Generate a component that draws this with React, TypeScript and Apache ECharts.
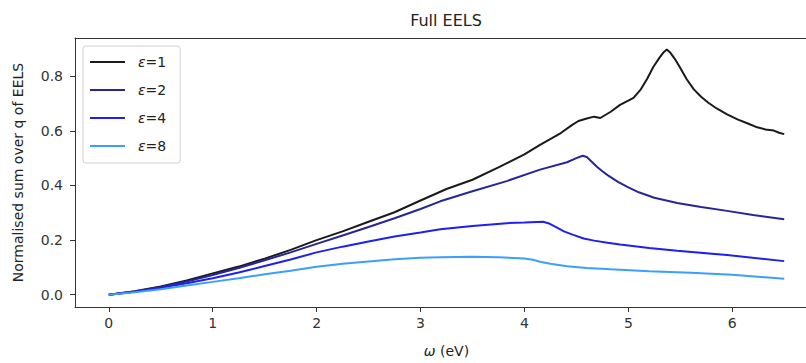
import React, { useEffect, useRef } from "react";
import * as echarts from "echarts";

const seriesNames = ["ε=1", "ε=2", "ε=4", "ε=8"];
const seriesColors = ["#1a1a1a", "#26269a", "#1f1ff2", "#3a9fff"];

const eps1X = [0, 0.25, 0.5, 0.75, 1.0, 1.25, 1.5, 1.75, 2.0, 2.25, 2.5, 2.75, 3.0, 3.25, 3.5, 3.75, 4.0, 4.15, 4.35, 4.46, 4.52, 4.6, 4.67, 4.73, 4.83, 4.92, 5.05, 5.12, 5.18, 5.24, 5.3, 5.34, 5.37, 5.4, 5.45, 5.5, 5.56, 5.63, 5.7, 5.77, 5.85, 5.95, 6.05, 6.15, 6.24, 6.32, 6.4, 6.45, 6.5];
const eps1Y = [0, 0.013, 0.03, 0.052, 0.078, 0.103, 0.132, 0.164, 0.2, 0.232, 0.267, 0.302, 0.345, 0.387, 0.421, 0.466, 0.514, 0.549, 0.592, 0.622, 0.636, 0.645, 0.652, 0.647, 0.67, 0.695, 0.721, 0.752, 0.79, 0.834, 0.868, 0.888, 0.898, 0.888, 0.862, 0.83, 0.79, 0.752, 0.725, 0.703, 0.682, 0.66, 0.642, 0.627, 0.613, 0.605, 0.601, 0.593, 0.588];

const eps2X = [0, 0.25, 0.5, 0.75, 1.0, 1.25, 1.5, 1.75, 2.0, 2.25, 2.5, 2.75, 3.0, 3.19, 3.5, 3.83, 4.15, 4.41, 4.5, 4.56, 4.6, 4.65, 4.7, 4.75, 4.8, 4.9, 5.0, 5.1, 5.25, 5.47, 5.7, 5.95, 6.2, 6.5];
const eps2Y = [0, 0.012, 0.028, 0.048, 0.072, 0.098, 0.126, 0.155, 0.186, 0.217, 0.248, 0.28, 0.314, 0.342, 0.379, 0.416, 0.458, 0.485, 0.5, 0.509, 0.504, 0.486, 0.468, 0.452, 0.438, 0.413, 0.393, 0.375, 0.355, 0.336, 0.321, 0.307, 0.292, 0.276];

const eps4X = [0, 0.25, 0.5, 0.75, 1.0, 1.25, 1.5, 1.75, 2.0, 2.25, 2.5, 2.75, 3.0, 3.19, 3.5, 3.83, 4.0, 4.18, 4.23, 4.3, 4.38, 4.47, 4.57, 4.67, 4.8, 4.92, 5.2, 5.47, 5.95, 6.5];
const eps4Y = [0, 0.011, 0.025, 0.042, 0.06, 0.081, 0.105, 0.129, 0.155, 0.176, 0.195, 0.213, 0.228, 0.24, 0.252, 0.262, 0.264, 0.267, 0.262, 0.248, 0.232, 0.219, 0.206, 0.198, 0.19, 0.184, 0.171, 0.161, 0.145, 0.123];

const eps8X = [0, 0.25, 0.5, 0.75, 1.0, 1.25, 1.5, 1.75, 2.0, 2.25, 2.5, 2.75, 3.0, 3.19, 3.5, 3.75, 4.0, 4.08, 4.15, 4.25, 4.41, 4.6, 4.83, 5.2, 5.6, 6.0, 6.5];
const eps8Y = [0, 0.009, 0.02, 0.034, 0.047, 0.06, 0.075, 0.088, 0.102, 0.113, 0.122, 0.13, 0.135, 0.137, 0.139, 0.137, 0.133, 0.128, 0.121, 0.113, 0.104, 0.098, 0.093, 0.086, 0.08, 0.073, 0.058];

const xTicks = [0, 1, 2, 3, 4, 5, 6];
const yTicks = [0, 0.2, 0.4, 0.6, 0.8];

const allX = [eps1X, eps2X, eps4X, eps8X];
const allY = [eps1Y, eps2Y, eps4Y, eps8Y];

const FONT = "DejaVu Sans";

export default function App() {
  const ref = useRef<HTMLDivElement>(null);
  useEffect(() => {
    const chart = echarts.init(ref.current!, null, { renderer: "svg" });
    const symbolFor = (n: string) => n.replace("ε", "{i|ε}");
    chart.setOption({
      animation: false,
      backgroundColor: "#ffffff",
      textStyle: { fontFamily: FONT },
      title: {
        text: "Full EELS",
        left: 446,
        textAlign: "center",
        top: 12,
        padding: 0,
        textStyle: { fontFamily: FONT, fontSize: 16, fontWeight: "normal", color: "#222" },
      },
      legend: {
        orient: "vertical",
        left: 83,
        top: 46,
        padding: [9, 14, 10, 6],
        itemWidth: 35,
        itemHeight: 14,
        itemGap: 14,
        backgroundColor: "rgba(255,255,255,0.85)",
        borderColor: "#d0d0d0",
        borderWidth: 1,
        borderRadius: 3,
        itemStyle: { opacity: 0 },
        data: seriesNames,
        formatter: (n: string) => symbolFor(n),
        textStyle: {
          fontFamily: FONT,
          fontSize: 14,
          color: "#222",
          padding: [0, 0, 0, 8],
          rich: {
            i: { fontFamily: FONT, fontStyle: "italic", fontSize: 14, color: "#222" },
          },
        },
      },
      grid: { left: 75, top: 38, width: 743, height: 271 },
      xAxis: [
        {
          type: "value",
          min: -0.325,
          max: 6.825,
          name: "{i|ω} (eV)",
          nameLocation: "middle",
          nameGap: 37,
          nameTextStyle: {
            fontFamily: FONT,
            fontSize: 14,
            color: "#222",
            rich: { i: { fontFamily: FONT, fontStyle: "italic", fontSize: 14, color: "#222" } },
          },
          axisLine: { show: true, onZero: false, lineStyle: { color: "#333", width: 1 } },
          axisTick: { show: true, customValues: xTicks, length: 5, lineStyle: { color: "#333" } },
          axisLabel: { customValues: xTicks, fontSize: 14, color: "#333", margin: 9, fontFamily: FONT },
          splitLine: { show: false },
        },
        {
          type: "value",
          position: "top",
          min: -0.325,
          max: 6.825,
          axisLine: { show: true, onZero: false, lineStyle: { color: "#333", width: 1 } },
          axisTick: { show: false },
          axisLabel: { show: false },
          splitLine: { show: false },
        },
      ],
      yAxis: {
        type: "value",
        min: -0.045,
        max: 0.94,
        name: "Normalised sum over q of EELS",
        nameLocation: "middle",
        nameGap: 50,
        nameTextStyle: { fontFamily: FONT, fontSize: 14, color: "#222" },
        axisLine: { show: true, onZero: false, lineStyle: { color: "#333", width: 1 } },
        axisTick: { show: true, customValues: yTicks, length: 5, lineStyle: { color: "#333" } },
        axisLabel: {
          customValues: yTicks,
          fontSize: 14,
          color: "#333",
          margin: 12,
          fontFamily: FONT,
          formatter: (v: number) => v.toFixed(1),
        },
        splitLine: { show: false },
      },
      series: seriesNames.map((name, k) => ({
        name,
        type: "line",
        xAxisIndex: 0,
        symbol: "none",
        smooth: false,
        color: seriesColors[k],
        lineStyle: { width: 2, color: seriesColors[k] },
        data: allX[k].map((x, i) => [x, allY[k][i]]),
      })),
    });
    return () => chart.dispose();
  }, []);
  return (
    <div style={{ position: "absolute", left: 0, top: 0, width: 806, height: 363, overflow: "hidden", background: "#fff" }}>
      <div ref={ref} style={{ width: 830, height: 363 }} />
    </div>
  );
}
